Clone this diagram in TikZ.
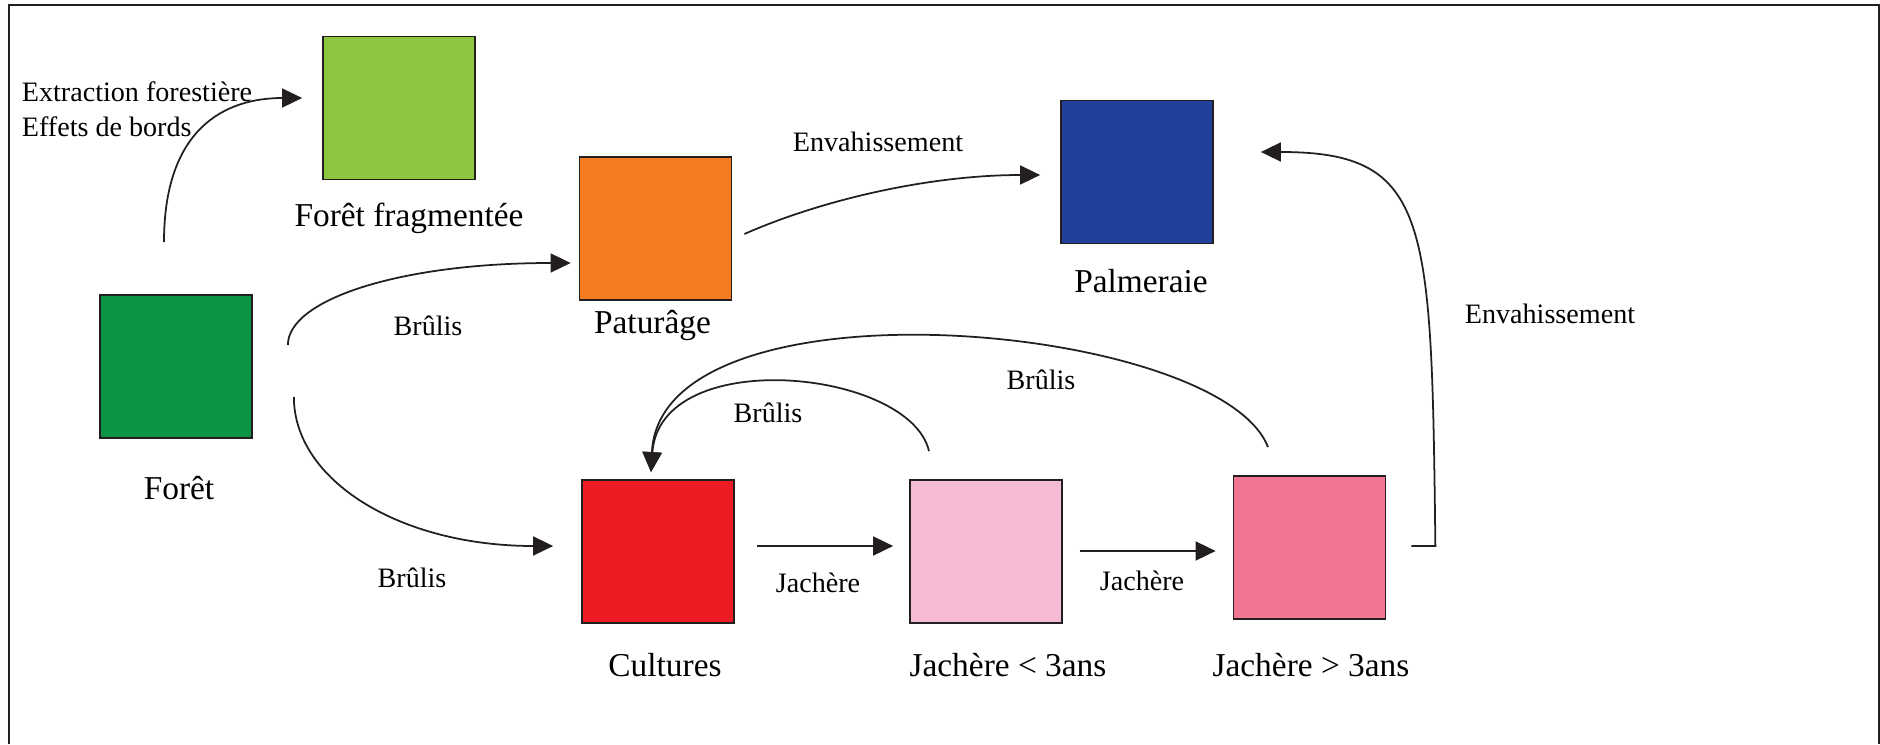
\documentclass[tikz,border=0pt]{standalone}
\usepackage{fontspec}
\setmainfont{Liberation Serif}
\usetikzlibrary{arrows.meta,positioning}

\definecolor{ink}{HTML}{231F20}
\definecolor{foretc}{HTML}{0D9344}
\definecolor{fragc}{HTML}{8DC63F}
\definecolor{paturc}{HTML}{F47B20}
\definecolor{palmc}{HTML}{21409A}
\definecolor{cultc}{HTML}{ED1C24}
\definecolor{jachac}{HTML}{F6BBD4}
\definecolor{jachbc}{HTML}{F27592}

\begin{document}
\begin{tikzpicture}[>={Triangle[length=4mm,width=3.8mm]}, on grid, line width=1pt, ink,
    box/.style={draw=ink, minimum width=3.04cm, minimum height=2.86cm, inner sep=0pt},
    boxlabel/.style={text=black, font=\fontsize{19}{23}\selectfont, inner sep=0pt},
    edgelabel/.style={text=black, font=\fontsize{16}{20}\selectfont, inner sep=0pt}]
    \useasboundingbox (0,0) rectangle (37.6,14.88);
    \draw[line width=0.04cm] (0.18,0) -- (0.18,14.78) -- (37.58,14.78) -- (37.58,0);

    % land-use states
    \node[box, fill=foretc] (foret) at (3.52,7.55) {};
    \node[box, fill=fragc] (frag) [above right=5.17cm and 4.46cm of foret] {};
    \node[box, fill=paturc] (patur) [above right=2.76cm and 9.59cm of foret] {};
    \node[box, fill=palmc] (palm) [above right=1.13cm and 9.63cm of patur] {};
    \node[box, fill=cultc] (cult) [below right=3.70cm and 9.64cm of foret] {};
    \node[box, fill=jachac] (jach1) [right=6.56cm of cult] {};
    \node[box, fill=jachbc] (jach2) [above right=0.08cm and 6.47cm of jach1] {};

    \node[boxlabel] (foret-l) [below=2.43cm of foret, xshift=0.06cm] {Forêt};
    \node[boxlabel] (frag-l) [below=2.2cm of frag, xshift=0.2cm] {Forêt fragmentée};
    \node[boxlabel] (patur-l) [below=1.93cm of patur, xshift=-0.06cm] {Paturâge};
    \node[boxlabel] (palm-l) [below=2.18cm of palm, xshift=0.08cm] {Palmeraie};
    \node[boxlabel] (cult-l) [below=2.27cm of cult, xshift=0.14cm] {Cultures};
    \node[boxlabel] (jach1-l) [below=2.27cm of jach1, xshift=0.44cm] {Jachère < 3ans};
    \node[boxlabel] (jach2-l) [below=2.35cm of jach2, xshift=0.03cm] {Jachère > 3ans};

    % connector ends
    \coordinate (foret-a) at ([xshift=-0.24cm, yshift=1.04cm]foret.north);
    \coordinate (frag-a) at ([xshift=-0.4cm, yshift=0.2cm]frag.west);
    \coordinate (foret-b) at ([xshift=0.7cm, yshift=0.43cm]foret.east);
    \coordinate (patur-a) at ([xshift=-0.16cm, yshift=-0.69cm]patur.west);
    \coordinate (foret-c) at ([xshift=0.82cm, yshift=-0.61cm]foret.east);
    \coordinate (cult-a) at ([xshift=-0.56cm, yshift=0.11cm]cult.west);
    \coordinate (patur-b) at ([xshift=0.24cm, yshift=-0.11cm]patur.east);
    \coordinate (palm-a) at ([xshift=-0.4cm, yshift=-0.06cm]palm.west);
    \coordinate (jach2-a) at ([xshift=0.5cm, yshift=0.03cm]jach2.east);
    \coordinate (palm-b) at ([xshift=0.94cm, yshift=0.4cm]palm.east);
    \coordinate (cult-b) at ([xshift=0.44cm, yshift=0.11cm]cult.east);
    \coordinate (jach1-a) at ([xshift=-0.32cm, yshift=0.11cm]jach1.west);
    \coordinate (jach1-b) at ([xshift=0.34cm, yshift=0.01cm]jach1.east);
    \coordinate (jach2-b) at ([xshift=-0.34cm, yshift=-0.07cm]jach2.west);
    \coordinate (jach1-c) at ([xshift=-1.14cm, yshift=0.56cm]jach1.north);
    \coordinate (jach2-c) at ([xshift=-0.83cm, yshift=0.56cm]jach2.north);
    \coordinate (cult-c) at ([xshift=-0.14cm, yshift=0.14cm]cult.north);

    \draw[->] (foret-a) .. controls +(0,2.26) and +(-1.56,0) .. (frag-a);
    \draw[->] (foret-b) .. controls +(0,0.9) and +(-3.44,0) .. (patur-a);
    \draw[->] (foret-c) .. controls +(0,-1.66) and +(-3.08,0) .. (cult-a);
    \draw[->] (patur-b) .. controls +(1.54,0.68) and +(-2.22,0) .. (palm-a);
    \draw[->] (jach2-a) -- ++(0.48,0) .. controls +(-0.08,6.52) and +(3.4,0) .. (palm-b);
    \draw[->] (cult-b) -- (jach1-a);
    \draw[->] (jach1-b) -- (jach2-b);
    \draw[->] (jach1-c) .. controls +(-0.38,1.64) and +(0.18,2.56) .. (cult-c);
    \draw[->] (jach2-c) .. controls +(-0.96,2.5) and +(0.18,4.0) .. (cult-c);

    % transition labels
    \node[edgelabel, align=left, anchor=west] (ext-l) at (0.42,12.69) {Extraction forestière\\Effets de bords};
    \node[edgelabel] (env1-l) at (17.56,12.04) {Envahissement};
    \node[edgelabel] (env2-l) at (31.0,8.6) {Envahissement};
    \node[edgelabel] (brul1-l) at (8.56,8.36) {Brûlis};
    \node[edgelabel] (brul2-l) at (8.24,3.32) {Brûlis};
    \node[edgelabel] (brul3-l) at (15.36,6.62) {Brûlis};
    \node[edgelabel] (brul4-l) at (20.82,7.28) {Brûlis};
    \node[edgelabel] (jach1-t) at (16.36,3.22) {Jachère};
    \node[edgelabel] (jach2-t) at (22.84,3.26) {Jachère};
\end{tikzpicture}
\end{document}
